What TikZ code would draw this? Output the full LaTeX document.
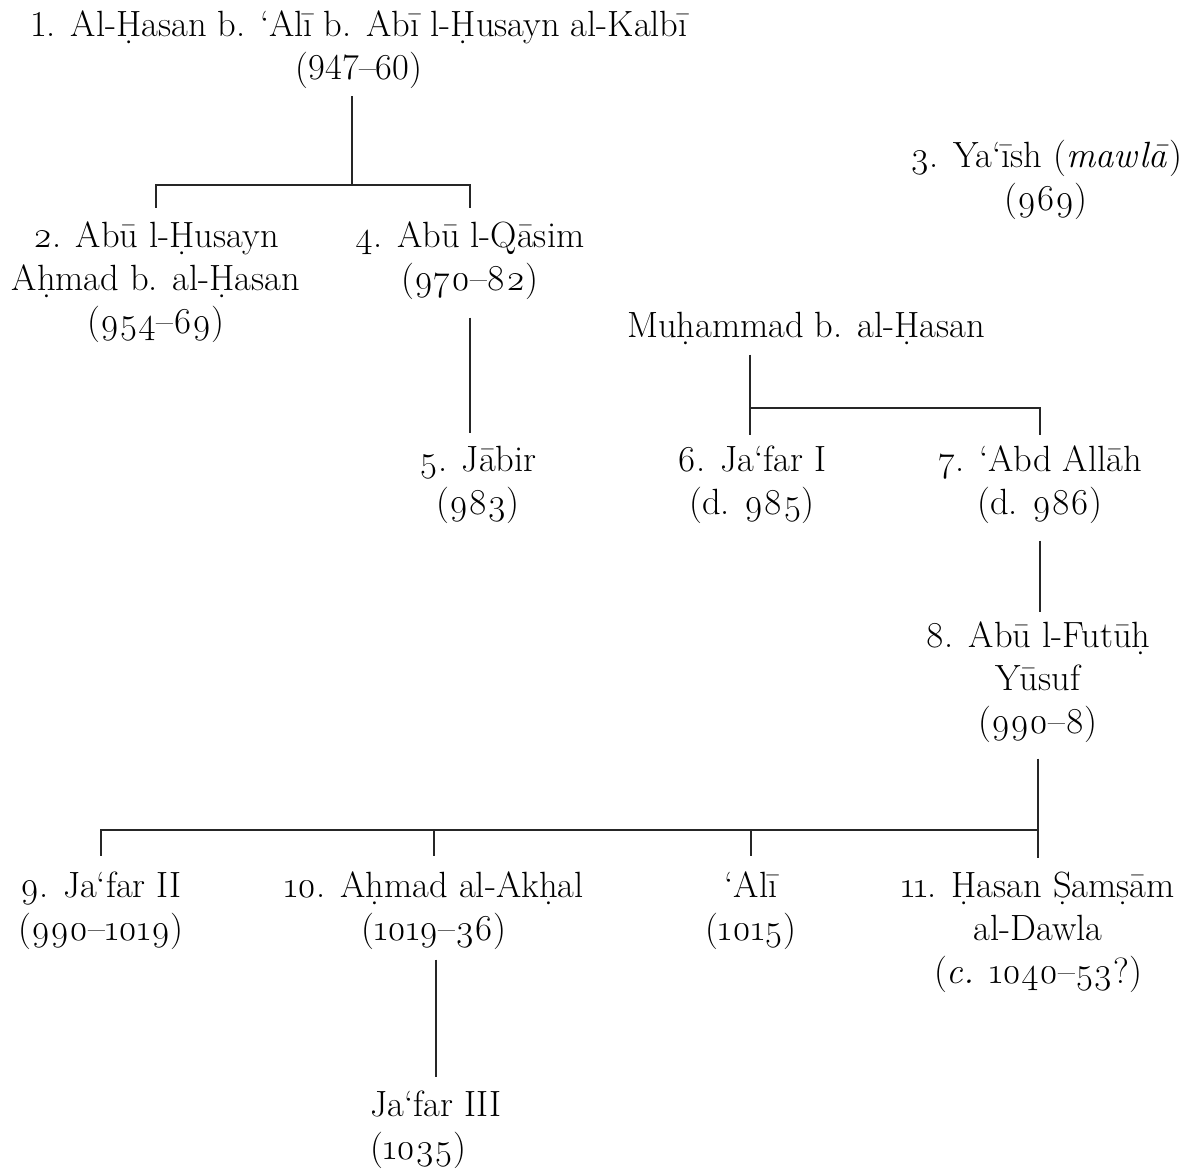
\documentclass[tikz,border=0pt]{standalone}
\usepackage{fontspec}
\setmainfont{Latin Modern Roman}[Numbers=OldStyle]
\newfontfamily\liningfont{Latin Modern Roman}[Numbers=Lining]
\begin{document}
\begin{tikzpicture}[x=1pt,y=-1pt,
  person/.style={inner sep=0pt, align=center, font=\fontsize{36.5}{43}\selectfont},
  link/.style={line width=1.3pt, black!85}]
\useasboundingbox (0,0) rectangle (1186,1171);
% people
\node[person] (n1) at (359,50) {{\liningfont 1.} Al-Ḥasan b. ‘Alī b. Abī l-Ḥusayn al-Kalbī\\{\liningfont (947–60)}};
\node[person] (n2) at (156,282) {2. Abū l-Ḥusayn\\Aḥmad b. al-Ḥasan\\(954–69)};
\node[person] (n4) at (470,260.5) {4. Abū l-Qāsim\\(970–82)};
\node[person] (n3) at (1046,179.5) {3. Ya‘īsh (\textit{mawlā})\\(969)};
\node[person] (mu) at (806,328) {Muḥammad b. al-Ḥasan};
\node[person] (n5) at (478,484.5) {5. Jābir\\(983)};
\node[person] (n6) at (752,484.5) {6. Ja‘far I\\(d. 985)};
\node[person] (n7) at (1040,484.5) {7. ‘Abd Allāh\\(d. 986)};
\node[person] (n8) at (1038,682) {8. Abū l-Futūḥ\\Yūsuf\\(990–8)};
\node[person] (n9) at (101,910.5) {9. Ja‘far II\\(990–1019)};
\node[person] (n10) at (434,910.5) {10. Aḥmad al-Akḥal\\(1019–36)};
\node[person] (ali) at (751,910.5) {‘Alī\\(1015)};
\node[person] (n11) at (1038,932) {11. Ḥasan Ṣamṣām\\al-Dawla\\(\textit{c.} 1040–53?)};
\node[person, align=left] (ja3) at (436,1129.5) {Ja‘far III\\(1035)};
% junctions
\coordinate (j1) at (352,185);
\coordinate (j2) at (750,408);
\coordinate (j3) at (1038,830);
% connectors
\draw[link, shorten <=7pt] (n1.south -| j1) -- (j1);
\draw[link, shorten >=13pt] (j1) -| (n2.north);
\draw[link, shorten >=13pt] (j1) -| (n4.north);
\draw[link, shorten <=18pt, shorten >=13pt] (n4.south) -- (n4.south |- n5.north);
\draw[link, shorten <=10pt, shorten >=10pt] (mu.south -| j2) -- (n6.north -| j2);
\draw[link, shorten >=10pt] (j2) -| (n7.north);
\draw[link, shorten <=17pt, shorten >=9pt] (n7.south) -- (n7.south |- n8.north);
\draw[link, shorten <=16pt, shorten >=13pt] (n8.south) -- (n8.south |- n11.north);
\draw[link, shorten >=15pt] (j3) -| (n9.north);
\draw[link, shorten >=15pt] (j3) -| (n10.north);
\draw[link, shorten >=15pt] (j3) -| (ali.north);
\draw[link, shorten <=10pt, shorten >=13pt] (n10.south -| ja3.north) -- (ja3.north);
\end{tikzpicture}
\end{document}
